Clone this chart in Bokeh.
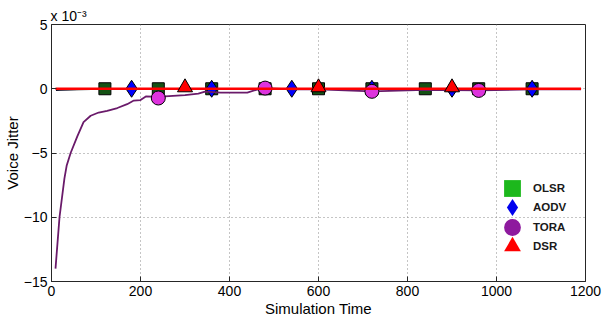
import math
from bokeh.plotting import figure
from bokeh.models import Legend, LegendItem, FixedTicker
from bokeh.embed import file_html
from bokeh.resources import INLINE

# ---- data (y values in units of 1e-3) ----
x_ticks = [0, 200, 400, 600, 800, 1000, 1200]
y_ticks = [-15, -10, -5, 0, 5]

olsr_x = [10, 20, 60, 90, 120, 240, 360, 480, 600, 720, 840, 960, 1080, 1190]
olsr_y = [-0.12, -0.1, -0.06, -0.04, 0.0, 0.0, 0.0, 0.0, 0.0, 0.0, 0.0, 0.0, 0.0, 0.0]
aodv_x = [10, 60, 120, 180, 360, 540, 720, 900, 1080, 1190]
aodv_y = [-0.06, -0.04, -0.02, 0.0, 0.0, 0.0, 0.0, 0.0, 0.0, 0.0]
tora_x = [9, 18, 29, 34, 43, 58, 72, 88, 106, 125, 148, 170, 185, 200, 212, 228, 240,
          255, 300, 330, 345, 380, 440, 460, 480, 540, 600, 720, 840, 960, 1080, 1190]
tora_y = [-14.0, -10.0, -7.0, -6.0, -5.0, -3.7, -2.6, -2.1, -1.85, -1.72, -1.5, -1.2, -0.92,
          -0.88, -0.6, -0.62, -0.72, -0.6, -0.5, -0.38, -0.22, -0.3, -0.3, -0.08, 0.05,
          -0.05, -0.05, -0.2, -0.08, -0.13, -0.05, -0.05]
dsr_x = [9, 300, 600, 900, 1190]
dsr_y = [0.0, 0.0, 0.0, 0.0, 0.0]

olsr_mx = [120, 240, 360, 480, 600, 720, 840, 960, 1080]
olsr_my = [0, 0, 0, 0, 0, 0, 0, 0, 0]
aodv_mx = [180, 360, 540, 720, 900, 1080]
aodv_my = [0, 0, 0, 0, 0, 0]
tora_mx = [240, 480, 720, 960]
tora_my = [-0.72, 0.05, -0.2, -0.13]
dsr_mx = [300, 600, 900]
dsr_my = [0.1, 0.1, 0.1]

series_names = ["OLSR", "AODV", "TORA", "DSR"]

FONT = "Liberation Sans"

p = figure(width=604, height=319, x_range=(0, 1200), y_range=(-15, 5),
           output_backend="svg", toolbar_location=None,
           min_border_left=51, min_border_right=19, min_border_top=24, min_border_bottom=36)

p.title.text = "x 10\u207b\u00b3"
p.title.align = "left"
p.title.text_font = FONT
p.title.text_font_size = "14px"
p.title.text_font_style = "normal"
p.title.text_color = "#000000"
p.title.offset = -1
p.title.standoff = 2

p.xaxis.ticker = FixedTicker(ticks=x_ticks)
p.yaxis.ticker = FixedTicker(ticks=y_ticks)
for ax in (p.xaxis[0], p.yaxis[0]):
    ax.major_tick_in = 5
    ax.major_tick_out = 0
    ax.minor_tick_line_color = None
    ax.axis_line_color = "#262626"
    ax.major_tick_line_color = "#262626"
    ax.major_label_text_font = FONT
    ax.major_label_text_font_size = "14px"
    ax.major_label_text_color = "#000000"
    ax.major_label_standoff = 4
    ax.axis_label_text_font = FONT
    ax.axis_label_text_font_size = "15px"
    ax.axis_label_text_font_style = "normal"
    ax.axis_label_text_color = "#000000"
p.xaxis.axis_label = "Simulation Time"
p.xaxis.axis_label_standoff = 1
p.yaxis.axis_label = "Voice Jitter"
p.yaxis.axis_label_standoff = 0
p.outline_line_color = "#262626"
p.outline_line_alpha = 1
for g in (p.xgrid[0], p.ygrid[0]):
    g.grid_line_dash = "1 3"
    g.grid_line_color = "#8a8a8a"
    g.grid_line_width = 1

# series
p.line(olsr_x, olsr_y, line_color="#111111", line_width=1.5)
p.scatter(olsr_mx, olsr_my, marker="square", size=12, fill_color="#145214", line_color="#000000", line_width=1)
p.line(aodv_x, aodv_y, line_color="#000066", line_width=1.5)
p.scatter(aodv_mx, aodv_my, marker="diamond", size=17, fill_color="#0000ff", line_color="#000000", line_width=1)
p.line(tora_x, tora_y, line_color="#6a1a6a", line_width=1.8)
p.scatter(tora_mx, tora_my, marker="circle", size=14, fill_color="#dd33dd", line_color="#000000", line_width=1)
p.line(dsr_x, dsr_y, line_color="#ff0000", line_width=2.6)
p.scatter(dsr_mx, dsr_my, marker="triangle", size=15, fill_color="#ff0000", line_color="#000000", line_width=1)

# legend-only symbols (hidden renderers, drawn only in the legend)
l1 = p.scatter(olsr_mx, olsr_my, marker="square", fill_color="#1cb81c", line_color=None, visible=False)
l2 = p.scatter(aodv_mx, aodv_my, marker="diamond", fill_color="#0000ee", line_color=None, visible=False)
l3 = p.scatter(tora_mx, tora_my, marker="circle", fill_color="#8e1a9e", line_color=None, visible=False)
l4 = p.scatter(dsr_mx, dsr_my, marker="triangle", fill_color="#ff0000", line_color=None, visible=False)

for k, (name, r) in enumerate(zip(series_names, [l1, l2, l3, l4])):
    lg = Legend(items=[LegendItem(label=name, renderers=[r])],
                location=(440, 72 - 19.3 * k), glyph_width=42, glyph_height=42,
                padding=0, margin=0, label_standoff=-5, click_policy="none",
                background_fill_alpha=0, border_line_alpha=0,
                inactive_fill_alpha=0,
                label_text_font=FONT, label_text_font_size="11.5px",
                label_text_font_style="bold", label_text_color="#1a1a1a")
    p.add_layout(lg)

open("out.html", "w").write(file_html(p, INLINE))
